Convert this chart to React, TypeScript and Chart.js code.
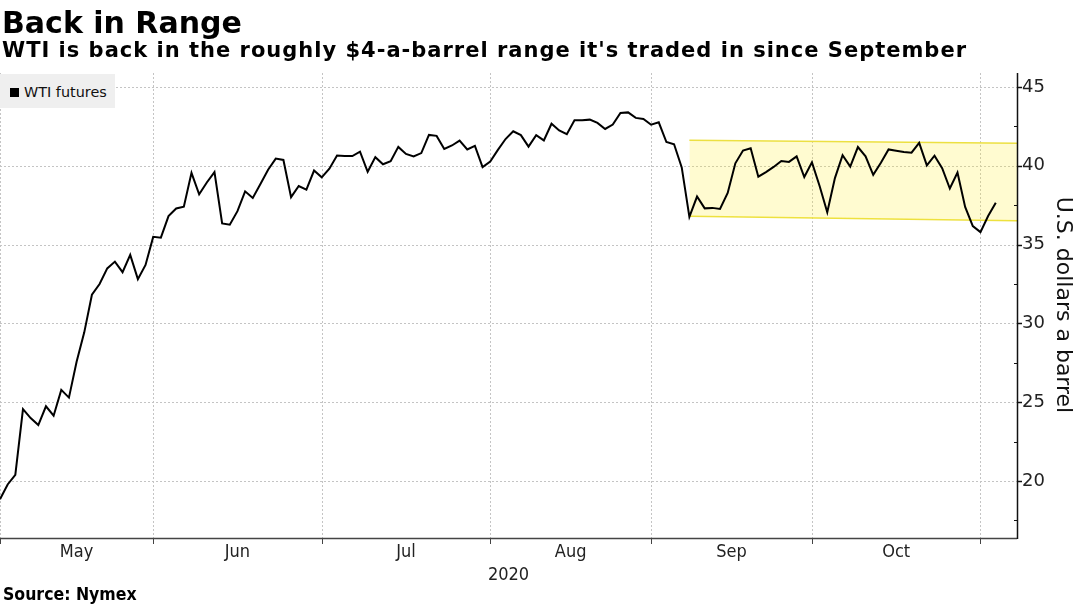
import React, { useEffect, useRef } from 'react';
import { Chart, registerables } from 'chart.js';

Chart.register(...registerables);

// Month labels (centered between month-end ticks) and month-end trading-day indices
const monthLabels = ['May', 'Jun', 'Jul', 'Aug', 'Sep', 'Oct'];
const monthEndIdx = [0, 20, 42, 64, 85, 106, 128];
const yearLabel = '2020';
const yTicks = [20, 25, 30, 35, 40, 45];
const yMinorTicks = [17.5, 22.5, 27.5, 32.5, 37.5, 42.5];

// WTI futures, daily closes by trading day (Apr 30 .. Nov 3, 2020)
const aprEnd = [18.84];
const mayValues = [19.78, 20.39, 24.56, 23.99, 23.55, 24.74, 24.14, 25.78, 25.29, 27.56, 29.43, 31.82, 32.5, 33.49, 33.92, 33.25, 34.35, 32.81, 33.71, 35.49];
const junValues = [35.44, 36.81, 37.29, 37.41, 39.55, 38.19, 38.94, 39.6, 36.34, 36.26, 37.12, 38.38, 37.96, 38.84, 39.75, 40.46, 40.37, 38.01, 38.72, 38.49, 39.7, 39.27];
const julValues = [39.82, 40.65, 40.63, 40.62, 40.9, 39.62, 40.55, 40.1, 40.29, 41.2, 40.75, 40.59, 40.81, 41.96, 41.9, 41.07, 41.29, 41.6, 41.04, 41.27, 39.92, 40.27];
const augValues = [41.01, 41.7, 42.19, 41.95, 41.22, 41.94, 41.61, 42.67, 42.24, 42.01, 42.89, 42.89, 42.93, 42.72, 42.34, 42.62, 43.35, 43.39, 43.04, 42.97, 42.61];
const sepValues = [42.76, 41.51, 41.37, 39.9, 36.76, 38.05, 37.3, 37.33, 37.26, 38.28, 40.16, 40.97, 41.11, 39.31, 39.6, 39.93, 40.31, 40.25, 40.6, 39.29, 40.22];
const octValues = [38.72, 37.05, 39.22, 40.67, 39.95, 41.19, 40.6, 39.43, 40.2, 41.04, 40.96, 40.88, 40.83, 41.46, 40.03, 40.64, 39.85, 38.56, 39.57, 37.39, 36.17, 35.79];
const novValues = [36.81, 37.66];

// Highlighted trading range band (x in trading-day index)
const bandX = [90, 132.77];
const bandTop = [41.62, 41.43];
const bandBottom = [36.8, 36.52];

const X_MAX = 132.77;
const Y_MIN = 16.38;
const Y_MAX = 45.89;

const FONT = "'DejaVu Sans', 'Noto Sans', sans-serif";
const COND = "'DejaVu Sans Condensed', 'Liberation Sans Narrow', 'DejaVu Sans', sans-serif";

export default function App() {
  const canvasRef = useRef<HTMLCanvasElement | null>(null);

  useEffect(() => {
    const canvas = canvasRef.current;
    if (!canvas) return;
    const wti = [...aprEnd, ...mayValues, ...junValues, ...julValues, ...augValues, ...sepValues, ...octValues, ...novValues];
    const linePts = wti.map((v, i) => ({ x: i, y: v }));
    const topPts = bandX.map((x, i) => ({ x, y: bandTop[i] }));
    const botPts = bandX.map((x, i) => ({ x, y: bandBottom[i] }));

    const decor = {
      id: 'decor',
      beforeDatasetsDraw(chart: any) {
        const { ctx, chartArea: a, scales } = chart;
        const xs = scales.x;
        const ys = scales.y;
        ctx.save();
        ctx.strokeStyle = '#c4c4c4';
        ctx.lineWidth = 1;
        ctx.setLineDash([2, 2]);
        yTicks.forEach((v) => {
          const y = Math.round(ys.getPixelForValue(v)) + 0.5;
          ctx.beginPath();
          ctx.moveTo(a.left, y);
          ctx.lineTo(a.right, y);
          ctx.stroke();
        });
        monthEndIdx.forEach((v) => {
          const x = Math.round(xs.getPixelForValue(v)) + 0.5;
          ctx.beginPath();
          ctx.moveTo(x, a.top);
          ctx.lineTo(x, a.bottom);
          ctx.stroke();
        });
        ctx.restore();
      },
      afterDraw(chart: any) {
        const { ctx, chartArea: a, scales } = chart;
        const xs = scales.x;
        const ys = scales.y;
        ctx.save();
        // x axis line
        ctx.strokeStyle = '#444';
        ctx.lineWidth = 1.5;
        ctx.beginPath();
        ctx.moveTo(a.left, a.bottom + 0.5);
        ctx.lineTo(a.right, a.bottom + 0.5);
        ctx.stroke();
        // x ticks
        ctx.lineWidth = 1;
        monthEndIdx.forEach((v) => {
          const x = Math.round(xs.getPixelForValue(v)) + 0.5;
          ctx.beginPath();
          ctx.moveTo(x, a.bottom);
          ctx.lineTo(x, a.bottom + 6);
          ctx.stroke();
        });
        // y axis line
        ctx.strokeStyle = '#111';
        ctx.lineWidth = 1.5;
        ctx.beginPath();
        ctx.moveTo(a.right + 0.5, a.top);
        ctx.lineTo(a.right + 0.5, a.bottom + 1);
        ctx.stroke();
        ctx.lineWidth = 1.5;
        yTicks.forEach((v) => {
          const y = Math.round(ys.getPixelForValue(v)) + 0.5;
          ctx.beginPath();
          ctx.moveTo(a.right, y);
          ctx.lineTo(a.right + 5, y);
          ctx.stroke();
        });
        ctx.lineWidth = 1;
        yMinorTicks.forEach((v) => {
          const y = Math.round(ys.getPixelForValue(v)) + 0.5;
          ctx.beginPath();
          ctx.moveTo(a.right - 3, y);
          ctx.lineTo(a.right, y);
          ctx.stroke();
        });
        // month labels
        ctx.fillStyle = '#222';
        ctx.font = `18px ${COND}`;
        ctx.textAlign = 'center';
        ctx.textBaseline = 'middle';
        monthLabels.forEach((m, i) => {
          const x = xs.getPixelForValue((monthEndIdx[i] + monthEndIdx[i + 1]) / 2);
          ctx.fillText(m, x, a.bottom + 14);
        });
        ctx.fillText(yearLabel, (a.left + a.right) / 2, a.bottom + 37);
        // y axis title
        ctx.fillStyle = '#111';
        ctx.font = `22px ${FONT}`;
        ctx.translate(1063, 305);
        ctx.rotate(Math.PI / 2);
        ctx.fillText('U.S. dollars a barrel', 0, 0);
        ctx.restore();
      },
    };

    const chart = new Chart(canvas, {
      type: 'line',
      data: {
        datasets: [
          {
            label: 'WTI futures',
            data: linePts,
            borderColor: '#000',
            borderWidth: 2,
            pointRadius: 0,
            tension: 0,
            fill: false,
            order: 0,
          },
          {
            label: 'range top',
            data: topPts,
            borderColor: '#ece042',
            borderWidth: 1.5,
            backgroundColor: 'rgba(255, 236, 40, 0.22)',
            pointRadius: 0,
            fill: '+1',
            order: 1,
          },
          {
            label: 'range bottom',
            data: botPts,
            borderColor: '#ece042',
            borderWidth: 1.5,
            pointRadius: 0,
            fill: false,
            order: 2,
          },
        ],
      },
      options: {
        animation: false,
        responsive: false,
        maintainAspectRatio: false,
        layout: { padding: { top: 73, left: 0, right: 0, bottom: 0 } },
        plugins: { legend: { display: false }, tooltip: { enabled: false } },
        scales: {
          x: {
            type: 'linear',
            min: 0,
            max: X_MAX,
            grid: { display: false },
            border: { display: false },
            ticks: { display: false },
            afterFit: (s: any) => {
              s.height = 68;
            },
          },
          y: {
            position: 'right',
            min: Y_MIN,
            max: Y_MAX,
            grid: { display: false, drawTicks: false },
            border: { display: false },
            afterBuildTicks: (s: any) => {
              s.ticks = yTicks.map((v) => ({ value: v }));
            },
            ticks: {
              padding: 5,
              color: '#222',
              font: { family: FONT, size: 18 },
            },
            afterFit: (s: any) => {
              s.width = 62;
            },
          },
        },
      } as any,
      plugins: [decor],
    });
    return () => chart.destroy();
  }, []);

  return (
    <div style={{ position: 'fixed', left: 0, top: 0, width: 1079, height: 606, background: '#fff', overflow: 'hidden' }}>
      <canvas ref={canvasRef} width={1079} height={606} style={{ position: 'absolute', left: 0, top: 0, width: 1079, height: 606 }} />
      <div style={{ position: 'absolute', left: 2, top: 8, font: `bold 30px ${FONT}`, lineHeight: '30px', color: '#000', whiteSpace: 'nowrap' }}>
        Back in Range
      </div>
      <div style={{ position: 'absolute', left: 2, top: 40, font: `bold 21px ${FONT}`, lineHeight: '21px', letterSpacing: '1px', color: '#000', whiteSpace: 'nowrap' }}>
        WTI is back in the roughly $4-a-barrel range it's traded in since September
      </div>
      <div style={{ position: 'absolute', left: 0, top: 74, width: 115, height: 34, background: '#efefef' }}>
        <div style={{ position: 'absolute', left: 10, top: 14, width: 9, height: 9, background: '#000' }} />
        <div style={{ position: 'absolute', left: 24, top: 11, font: `14.4px ${FONT}`, lineHeight: '14.4px', color: '#111', whiteSpace: 'nowrap' }}>
          WTI futures
        </div>
      </div>
      <div style={{ position: 'absolute', left: 3, top: 586, font: `bold 17.5px ${COND}`, lineHeight: '17.5px', color: '#000', whiteSpace: 'nowrap' }}>
        Source: Nymex
      </div>
    </div>
  );
}
